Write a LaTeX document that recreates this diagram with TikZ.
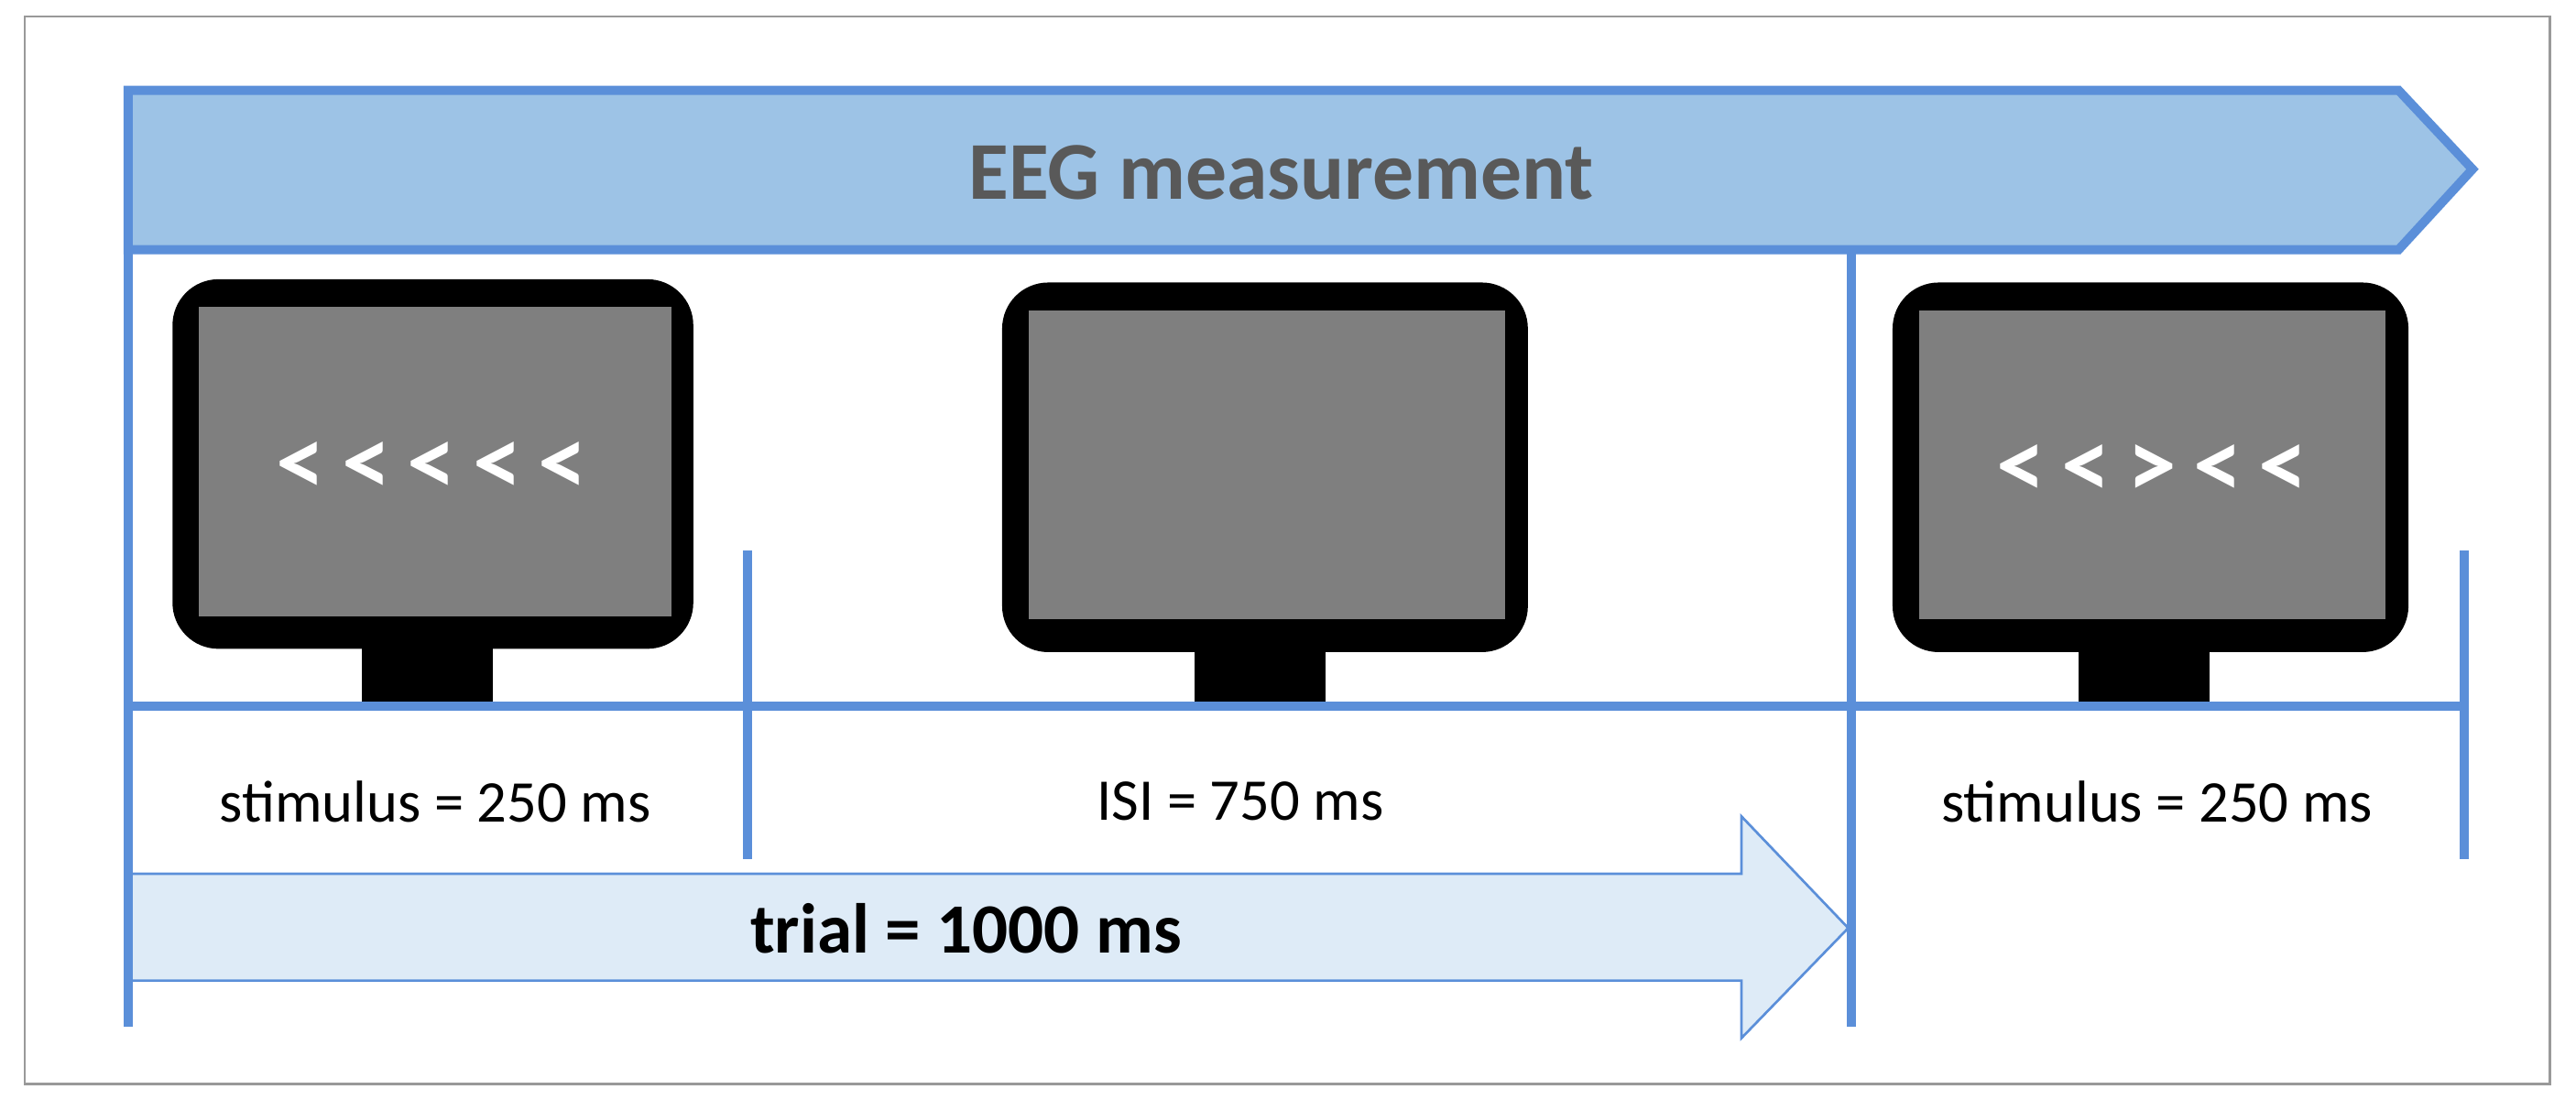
\documentclass[tikz,border=0pt]{standalone}
\usepackage{fontspec}
\setmainfont{Carlito}
\definecolor{bl}{HTML}{5B8FD9}
\definecolor{bfill}{HTML}{9DC3E6}
\definecolor{lfill}{HTML}{DEEBF7}
\definecolor{scr}{HTML}{7F7F7F}
\definecolor{tx}{HTML}{595959}
\tikzset{bline/.style={draw=bl,line width=5.5pt},
 lbl/.style={font=\fontsize{36}{40}\selectfont},
 mon/.style={fill=black,rounded corners=28pt},
 chev/.style={text=white,font=\bfseries\fontsize{60}{64}\selectfont}}
\begin{document}
\begin{tikzpicture}[x=1pt,y=-1pt]
\useasboundingbox (0,0) rectangle (1568,676);
\draw[gray!80,line width=1.5pt] (15,10) rectangle (1552,660);
% banner
\draw[bline,fill=bfill,line join=miter] (78,55) -- (1460,55) -- (1505,103) -- (1460,152) -- (78,152) -- cycle;
\node[text=tx,font=\bfseries\fontsize{50}{54}\selectfont] (eeg) at (780,105) {EEG measurement};
% trial arrow
\draw[draw=bl,line width=1.5pt,fill=lfill] (78,532) -- (1060,532) -- (1060,497) -- (1125,565) -- (1060,632) -- (1060,597) -- (78,597) -- cycle;
\node[font=\bfseries\fontsize{43}{47}\selectfont] (trial) at (588,565) {trial = 1000 ms};
% lines
\coordinate (l0) at (78,55); \coordinate (l1) at (78,625);
\draw[bline] (l0) -- (l1);
\coordinate (m0) at (1127,152); \coordinate (m1) at (1127,625);
\draw[bline] (m0) -- (m1);
\coordinate (h0) at (78,430); \coordinate (h1) at (1500,430);
\draw[bline] (h0) -- (h1);
\coordinate (a0) at (455,335); \coordinate (a1) at (455,523);
\draw[bline] (a0) -- (a1);
\coordinate (b0) at (1500,335); \coordinate (b1) at (1500,523);
\draw[bline] (b0) -- (b1);
% monitors
\fill (220,390) rectangle (300,427);
\fill[mon] (105,170) rectangle (422,395);
\fill[scr] (121,187) rectangle (409,375);
\node[chev] (c1) at (263,285) {<\,<\,<\,<\,<};
\fill (727,390) rectangle (807,427);
\fill[mon] (610,172) rectangle (930,397);
\fill[scr] (626,189) rectangle (916,377);
\fill (1265,390) rectangle (1345,427);
\fill[mon] (1152,172) rectangle (1466,397);
\fill[scr] (1168,189) rectangle (1452,377);
\node[chev] (c3) at (1310,287) {<\,<\,>\,<\,<};
% labels
\node[lbl] (s1) at (265,488) {stimulus = 250 ms};
\node[lbl] (isi) at (755,488) {ISI = 750 ms};
\node[lbl] (s2) at (1313,488) {stimulus = 250 ms};
\end{tikzpicture}
\end{document}
